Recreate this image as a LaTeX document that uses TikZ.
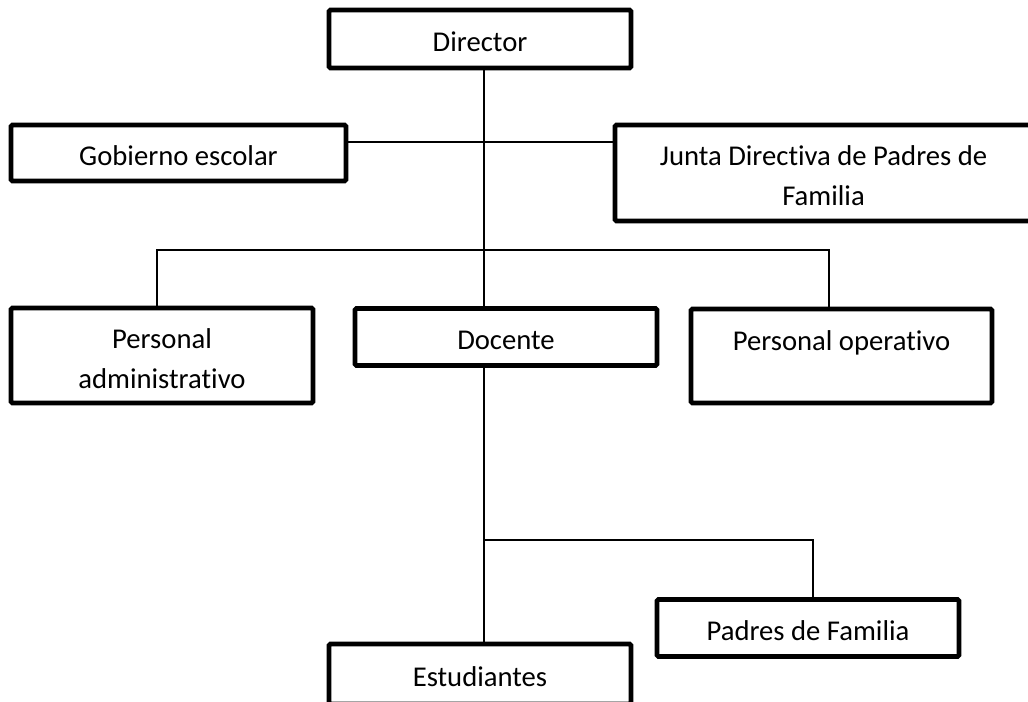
\documentclass[tikz,border=0pt]{standalone}
\usepackage{fontspec}
\setmainfont{Carlito}[Ligatures=NoCommon]
\usepackage{tikz}
\usetikzlibrary{positioning}

\begin{document}
\begin{tikzpicture}[x=0.75pt, y=-0.75pt,
    caja/.style={draw, line width=3.4pt, rounded corners=1pt, align=center, inner sep=0pt,
        font=\fontsize{21.5}{30}\selectfont},
    una/.style={caja, text height=20pt, text depth=2pt},
    dos/.style={caja, text height=#1, text depth=0pt},
    linea/.style={line width=1.2pt}]
                        \useasboundingbox[clip] (0, 0) rectangle (1028, 701);
                        \node[una, minimum width=302*0.75pt, minimum height=58*0.75pt] (director) at (480, 39) {Director};
                        \node[una, minimum width=335*0.75pt, minimum height=56*0.75pt] (gobierno) at (178.5, 153) {Gobierno escolar};
                        \node[dos=48pt, minimum width=417*0.75pt, minimum height=96*0.75pt] (junta) at (823.5, 173) {Junta Directiva de Padres de\\Familia};
                        \node[dos=49pt, minimum width=302*0.75pt, minimum height=95*0.75pt] (admin) at (162, 355.5) {Personal\\administrativo};
                        \node[una, minimum width=302*0.75pt, minimum height=57*0.75pt] (docente) at (506, 337) {Docente};
                        \node[dos=52pt, minimum width=301*0.75pt, minimum height=94*0.75pt] (operativo) at (841.5, 356) {Personal operativo\\\strut};
                        \node[una, minimum width=302*0.75pt, minimum height=57*0.75pt] (padres) at (808, 628) {Padres de Familia};
                        \node[una, minimum width=302*0.75pt, minimum height=60*0.75pt] (estudiantes) at (480, 674) {Estudiantes};
                        \coordinate (j1) at (484, 142);
                        \coordinate (ja) at (157, 250);
                        \coordinate (jo) at (829, 250);
                        \coordinate (j3) at (484, 540);
                        \coordinate (jp) at (813, 540);
                        \draw[linea]
                        (director.south -| j1) -- (docente.north -| j1)
                        (gobierno.east |- j1) -- (junta.west |- j1)
                        (admin.north -| ja) -- (ja) -- (jo) -- (operativo.north -| jo)
                        (docente.south -| j3) -- (estudiantes.north -| j3)
                        (j3) -- (jp) -- (padres.north -| jp);
                    \end{tikzpicture}
\end{document}
